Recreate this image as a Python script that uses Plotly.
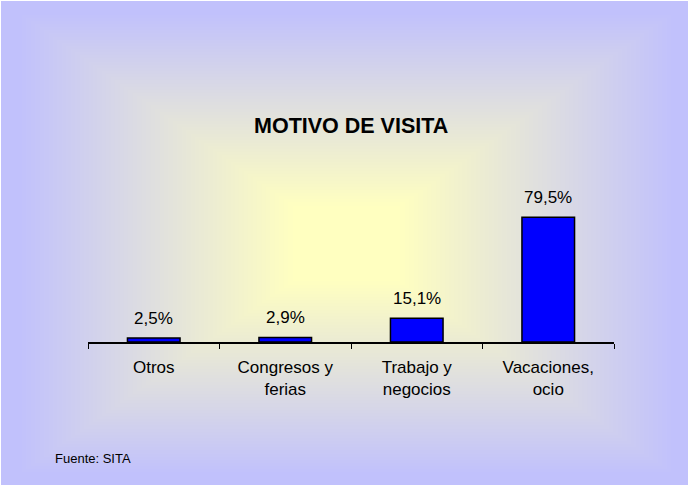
import base64
import struct
import zlib

import numpy as np
import plotly.graph_objects as go

# ---- data ----
categories = ["Otros", "Congresos y<br>ferias", "Trabajo y<br>negocios", "Vacaciones,<br>ocio"]
values = [2.5, 2.9, 15.1, 79.5]
value_labels = [f"{v:.1f}%".replace(".", ",") for v in values]
title_text = "MOTIVO DE VISITA"
source_text = "Fuente: SITA"

W, H = 688, 485
FONT = "Arial, 'Liberation Sans', sans-serif"


# ---- background: rectangular "from centre" gradient (yellow -> lavender) ----
def make_png(arr):
    h, w, _ = arr.shape
    raw = b"".join(b"\x00" + arr[r].tobytes() for r in range(h))

    def chunk(tag, data):
        c = struct.pack(">I", len(data)) + tag + data
        return c + struct.pack(">I", zlib.crc32(tag + data) & 0xFFFFFFFF)

    png = b"\x89PNG\r\n\x1a\n"
    png += chunk(b"IHDR", struct.pack(">IIBBBBB", w, h, 8, 2, 0, 0, 0))
    png += chunk(b"IDAT", zlib.compress(raw, 9))
    png += chunk(b"IEND", b"")
    return png


cx, cy = 346.0, 243.0
yy, xx = np.mgrid[0:H, 0:W].astype(float)
t = np.maximum(np.abs(xx - cx) / (W / 2.0), np.abs(yy - cy) / (H / 2.0))
s = np.clip((t - 0.15) / 0.80, 0, 1)[..., None]
center_col = np.array([255, 255, 192], float)
edge_col = np.array([193, 193, 252], float)
img = (center_col * (1 - s) + edge_col * s).round().astype(np.uint8)
img[0, :, :] = 255
img[:, 0, :] = 255
bg_uri = "data:image/png;base64," + base64.b64encode(make_png(img)).decode()

# ---- plot geometry (pixels) ----
x0_px, x1_px = 88, 614
y_axis_px, y_top_px = 342, 185

fig = go.Figure()
fig.add_trace(
    go.Bar(
        x=categories,
        y=values,
        marker=dict(color="#0000FF", line=dict(color="#000000", width=1.5)),
        width=0.4,
        hoverinfo="skip",
    )
)

annotations = []
for c, v, lab in zip(categories, values, value_labels):
    annotations.append(
        dict(
            x=c, y=v, xref="x", yref="y", text=lab, showarrow=False,
            yanchor="middle", yshift=20,
            font=dict(family=FONT, size=17, color="#000000"),
        )
    )
annotations.append(
    dict(
        x=351 / W, y=1 - 126 / H, xref="paper", yref="paper", text=f"<b>{title_text}</b>",
        showarrow=False, xanchor="center", yanchor="middle",
        font=dict(family=FONT, size=21.5, color="#000000"),
    )
)
annotations.append(
    dict(
        x=53 / W, y=1 - 458 / H, xref="paper", yref="paper", text=source_text,
        showarrow=False, xanchor="left", yanchor="middle",
        font=dict(family=FONT, size=13, color="#000000"),
    )
)

fig.update_layout(
    width=W,
    height=H,
    margin=dict(l=0, r=0, t=0, b=0),
    paper_bgcolor="#FFFFFF",
    plot_bgcolor="rgba(0,0,0,0)",
    showlegend=False,
    annotations=annotations,
    images=[
        dict(
            source=bg_uri, xref="paper", yref="paper", x=0, y=1, sizex=1, sizey=1,
            xanchor="left", yanchor="top", sizing="stretch", layer="below",
        )
    ],
    xaxis=dict(
        domain=[x0_px / W, x1_px / W],
        type="category",
        range=[-0.5, 3.5],
        tickson="boundaries",
        ticks="outside",
        ticklen=5,
        tickcolor="#000000",
        tickwidth=1,
        showline=True,
        linecolor="#000000",
        linewidth=1.5,
        showgrid=False,
        zeroline=False,
        ticklabelstandoff=9,
        tickfont=dict(family=FONT, size=17, color="#000000"),
        fixedrange=True,
    ),
    yaxis=dict(
        domain=[1 - y_axis_px / H, 1 - y_top_px / H],
        range=[0, 100],
        visible=False,
        showgrid=False,
        zeroline=False,
        fixedrange=True,
    ),
)

fig.write_html(
    "out.html",
    post_script="document.body.style.margin='0';document.body.style.padding='0';",
    config={"displayModeBar": False},
)
